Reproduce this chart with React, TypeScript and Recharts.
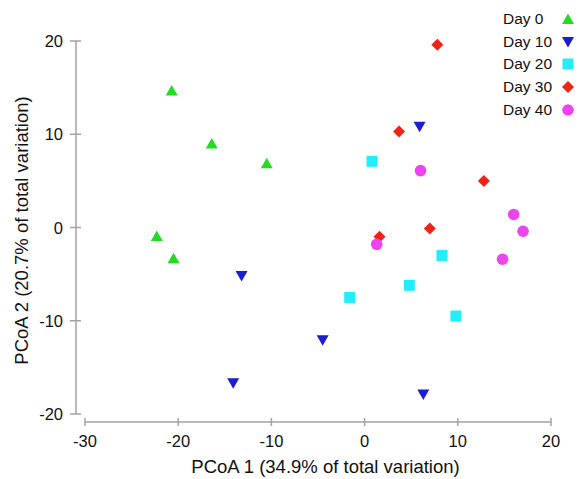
import React from 'react';
import { ScatterChart, Scatter, XAxis, YAxis, Legend, Label } from 'recharts';

const FONT = '"Liberation Sans", Arial, Helvetica, sans-serif';
const AXIS_COLOR = '#a3a3a3';

const GROUPS = ['Day 0', 'Day 10', 'Day 20', 'Day 30', 'Day 40'];
const COLORS = ['#22dc22', '#1c1cd0', '#22eefa', '#ee2414', '#ee44ee'];
const SHAPES = ['up', 'down', 'square', 'diamond', 'circle'];

// PCoA scores
const day0 = [
  { x: -20.7, y: 14.7 },
  { x: -16.4, y: 9.0 },
  { x: -10.5, y: 6.9 },
  { x: -22.3, y: -0.9 },
  { x: -20.5, y: -3.3 },
];
const day10 = [
  { x: -13.2, y: -5.2 },
  { x: -14.1, y: -16.7 },
  { x: -4.5, y: -12.1 },
  { x: 6.3, y: -17.9 },
  { x: 5.9, y: 10.8 },
];
const day20 = [
  { x: 0.8, y: 7.1 },
  { x: 8.3, y: -3.0 },
  { x: 4.8, y: -6.2 },
  { x: -1.6, y: -7.5 },
  { x: 9.8, y: -9.5 },
];
const day30 = [
  { x: 7.8, y: 19.6 },
  { x: 3.7, y: 10.3 },
  { x: 12.8, y: 5.0 },
  { x: 7.0, y: -0.1 },
  { x: 1.6, y: -1.0 },
];
const day40 = [
  { x: 6.0, y: 6.1 },
  { x: 16.0, y: 1.4 },
  { x: 17.0, y: -0.4 },
  { x: 1.3, y: -1.8 },
  { x: 14.8, y: -3.4 },
];
const SERIES = [day0, day10, day20, day30, day40];

const X_TICKS = [-30, -20, -10, 0, 10, 20];
const Y_TICKS = [-20, -10, 0, 10, 20];

function markerEl(kind: string, cx: number, cy: number, color: string) {
  const r = 6;
  switch (kind) {
    case 'up':
      return <path d={`M${cx},${cy - 5.5}L${cx + 6},${cy + 5}L${cx - 6},${cy + 5}Z`} fill={color} />;
    case 'down':
      return <path d={`M${cx - 6},${cy - 5}L${cx + 6},${cy - 5}L${cx},${cy + 5.5}Z`} fill={color} />;
    case 'square':
      return <rect x={cx - 5.5} y={cy - 5.5} width={11} height={11} fill={color} />;
    case 'diamond':
      return <path d={`M${cx},${cy - r}L${cx + r},${cy}L${cx},${cy + r}L${cx - r},${cy}Z`} fill={color} />;
    default:
      return <circle cx={cx} cy={cy} r={5.8} fill={color} />;
  }
}

const XTick = (props: any) => {
  const { x, y, payload } = props;
  return (
    <g>
      <line x1={x} x2={x} y1={y - 4} y2={y + 4} stroke={AXIS_COLOR} strokeWidth={1.5} />
      <text x={x} y={y + 25} textAnchor="middle" fontSize={16.5} fontFamily={FONT} fill="#111">
        {payload.value}
      </text>
    </g>
  );
};

const YTick = (props: any) => {
  const { x, y, payload } = props;
  return (
    <g>
      <line x1={x - 6} x2={x + 5} y1={y} y2={y} stroke={AXIS_COLOR} strokeWidth={1.5} />
      <text x={x - 13} y={y + 6} textAnchor="end" fontSize={16.5} fontFamily={FONT} fill="#111">
        {payload.value}
      </text>
    </g>
  );
};

const renderLegend = () => (
  <div style={{ fontFamily: FONT, fontSize: 15.5, color: '#111' }}>
    {GROUPS.map((g, i) => (
      <div key={g} style={{ display: 'flex', alignItems: 'center', height: 22.8 }}>
        <span style={{ width: 58 }}>{g}</span>
        <svg width={14} height={14}>{markerEl(SHAPES[i], 7, 7, COLORS[i])}</svg>
      </div>
    ))}
  </div>
);

export default function App() {
  return (
    <div style={{ position: 'absolute', left: 0, top: 0, background: '#fff' }}>
      <ScatterChart width={583} height={479} margin={{ top: 41, right: 32, bottom: 0, left: 0 }}>
        <XAxis
          type="number"
          dataKey="x"
          domain={[-30, 20]}
          ticks={X_TICKS}
          height={57}
          padding={{ left: 9, right: 0 }}
          tickSize={0}
          tickMargin={0}
          tickLine={false}
          tick={<XTick />}
          axisLine={{ stroke: AXIS_COLOR, strokeWidth: 1.5, strokeDasharray: '0 9 466 1000' }}
        >
          <Label
            content={(p: any) => {
              const vb = p.viewBox;
              return (
                <text x={vb.x + vb.width / 2 + 12} y={vb.y + 51} textAnchor="middle" fontSize={18.5} fontFamily={FONT} fill="#111">
                  PCoA 1 (34.9% of total variation)
                </text>
              );
            }}
          />
        </XAxis>
        <YAxis
          type="number"
          dataKey="y"
          domain={[-20, 20]}
          ticks={Y_TICKS}
          width={76}
          padding={{ top: 0, bottom: 8 }}
          tickSize={0}
          tickMargin={0}
          tickLine={false}
          tick={<YTick />}
          axisLine={{ stroke: AXIS_COLOR, strokeWidth: 1.5, strokeDasharray: '373 1000' }}
        >
          <Label
            content={(p: any) => {
              const vb = p.viewBox;
              const cy = vb.y + vb.height / 2 - 1;
              return (
                <text x={28} y={cy} transform={`rotate(-90 28 ${cy})`} textAnchor="middle" fontSize={18.5} fontFamily={FONT} fill="#111">
                  PCoA 2 (20.7% of total variation)
                </text>
              );
            }}
          />
        </YAxis>
        <Legend
          layout="vertical"
          align="center"
          verticalAlign="middle"
          content={renderLegend}
          wrapperStyle={{ top: 7.5, left: 503, width: 80 }}
        />
        {SERIES.map((data, i) => (
          <Scatter
            key={GROUPS[i]}
            name={GROUPS[i]}
            data={data}
            fill={COLORS[i]}
            isAnimationActive={false}
            shape={(p: any) => markerEl(SHAPES[i], p.cx, p.cy, COLORS[i])}
          />
        ))}
      </ScatterChart>
    </div>
  );
}
